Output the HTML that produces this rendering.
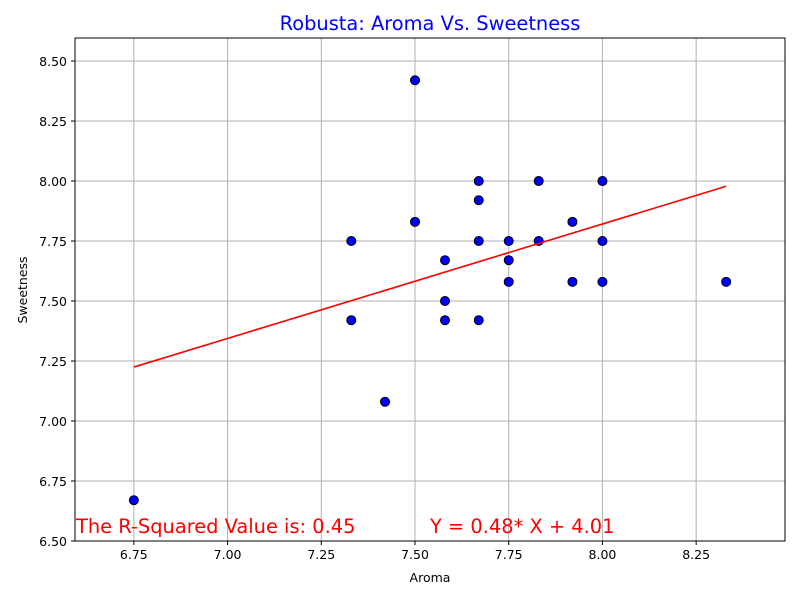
<!DOCTYPE html>
<html><head><meta charset="utf-8"><style>body{margin:0;background:#fff}svg{display:block;font-family:"DejaVu Sans","Liberation Sans",sans-serif}</style></head>
<body>
<svg id="chart" width="800" height="600"></svg>
<script>
const aroma = [6.75,7.33,7.33,7.42,7.5,7.5,7.58,7.58,7.58,7.67,7.67,7.67,7.67,7.75,7.75,7.75,7.83,7.83,7.92,7.92,8.0,8.0,8.0,8.33];
const sweetness = [6.67,7.75,7.42,7.08,8.42,7.83,7.67,7.5,7.42,8.0,7.92,7.75,7.42,7.75,7.67,7.58,8.0,7.75,7.83,7.58,8.0,7.75,7.58,7.58];
const xTicks = [6.75,7.0,7.25,7.5,7.75,8.0,8.25];
const yTicks = [6.5,6.75,7.0,7.25,7.5,7.75,8.0,8.25,8.5];
const fitSlope = [0.477];
const fitIntercept = [4.005];
const L=75,R=785,T=38,B=541;
const x0=6.593,x1=8.487,y0=6.5,y1=8.596;
const sx=v=>L+(v-x0)/(x1-x0)*(R-L);
const sy=v=>B-(v-y0)/(y1-y0)*(B-T);
const svg=document.getElementById('chart');
const NS='http://www.w3.org/2000/svg';
function mk(tag,attrs,parent){const e=document.createElementNS(NS,tag);for(const k in attrs)e.setAttribute(k,attrs[k]);(parent||svg).appendChild(e);return e;}
let g=mk('g',{});


xTicks.forEach(t=>{mk('line',{x1:sx(t),x2:sx(t),y1:T,y2:B,stroke:'#b0b0b0','stroke-width':1},g);});
yTicks.forEach(t=>{mk('line',{x1:L,x2:R,y1:sy(t),y2:sy(t),stroke:'#b0b0b0','stroke-width':1},g);});
xTicks.forEach(t=>{mk('line',{x1:sx(t),x2:sx(t),y1:B,y2:B+4,stroke:'#000'});
 const tx=mk('text',{x:sx(t),y:B+18,'text-anchor':'middle','font-size':12.5});tx.textContent=t.toFixed(2);
 
 });
yTicks.forEach(t=>{mk('line',{x1:L-4,x2:L,y1:sy(t),y2:sy(t),stroke:'#000'});
 const tx=mk('text',{x:L-8,y:sy(t)+5,'text-anchor':'end','font-size':12.5});tx.textContent=t.toFixed(2);
 
 });
const pts=mk('g',{});


aroma.forEach((a,i)=>{const c=mk('circle',{cx:sx(a),cy:sy(sweetness[i]),r:4.5,fill:'#0000ff',stroke:'#000','stroke-width':1},pts);
 
 });
const xmin=Math.min(...aroma),xmax=Math.max(...aroma);
const fl=mk('line',{x1:sx(xmin),y1:sy(fitSlope[0]*xmin+fitIntercept[0]),x2:sx(xmax),y2:sy(fitSlope[0]*xmax+fitIntercept[0]),stroke:'#ff0000','stroke-width':1.6});


const fr=mk('rect',{x:L,y:T,width:R-L,height:B-T,fill:'none',stroke:'#000','stroke-width':1});


</script>
<svg width="800" height="600" style="position:absolute;left:0;top:0">
<text x="430" y="30" text-anchor="middle" font-size="19.4" fill="#0000ff">Robusta: Aroma Vs. Sweetness</text>
<text x="430" y="582" text-anchor="middle" font-size="12.5">Aroma</text>
<text x="27" y="290" text-anchor="middle" font-size="12.5" transform="rotate(-90 27 290)">Sweetness</text>
<text x="76" y="533" font-size="19.4" fill="#ff0000">The R-Squared Value is: 0.45</text>
<text x="430" y="533" font-size="19.4" fill="#ff0000">Y = 0.48* X + 4.01</text>
</svg>
</body></html>
